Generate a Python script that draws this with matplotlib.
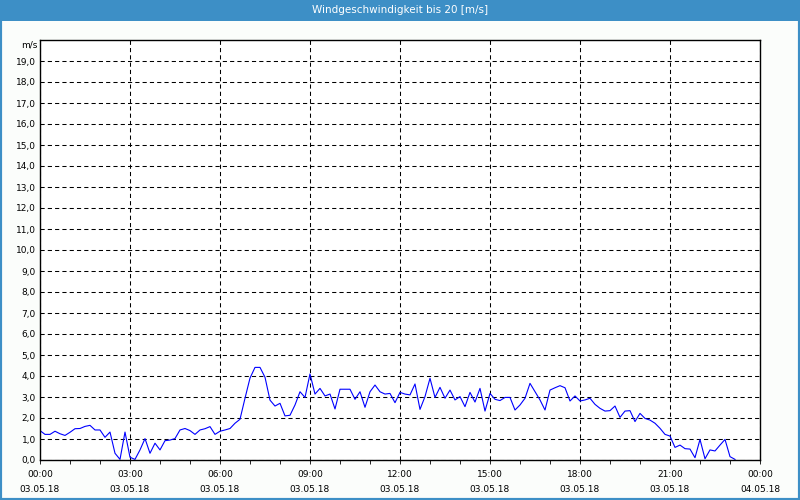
import matplotlib
matplotlib.use("Agg")
import matplotlib.pyplot as plt
import matplotlib.dates as mdates
from matplotlib.patches import Rectangle
import pandas as pd

# Windgeschwindigkeit in m/s, alle 10 Minuten ab 03.05.18 00:00
wind = [
    1.40, 1.22, 1.22, 1.37, 1.25, 1.17, 1.32, 1.49, 1.50, 1.60,
    1.65, 1.43, 1.43, 1.08, 1.33, 0.32, 0.03, 1.33, 0.13, 0.03,
    0.48, 1.02, 0.32, 0.80, 0.48, 0.92, 0.95, 1.02, 1.43, 1.50,
    1.40, 1.22, 1.43, 1.49, 1.59, 1.22, 1.37, 1.43, 1.50, 1.75,
    1.94, 2.94, 3.90, 4.41, 4.41, 3.94, 2.85, 2.57, 2.70, 2.10,
    2.13, 2.62, 3.25, 2.98, 4.10, 3.14, 3.41, 3.05, 3.14, 2.43,
    3.37, 3.37, 3.37, 2.89, 3.25, 2.51, 3.25, 3.57, 3.25, 3.14,
    3.17, 2.73, 3.22, 3.14, 3.10, 3.62, 2.41, 3.02, 3.89, 2.98,
    3.46, 2.94, 3.33, 2.86, 3.02, 2.54, 3.22, 2.76, 3.41, 2.33,
    3.17, 2.89, 2.83, 2.98, 2.98, 2.38, 2.62, 2.94, 3.65, 3.25,
    2.86, 2.38, 3.33, 3.44, 3.54, 3.44, 2.81, 3.05, 2.81, 2.86,
    2.94, 2.65, 2.46, 2.33, 2.35, 2.57, 2.03, 2.33, 2.35, 1.83,
    2.22, 1.98, 1.90, 1.75, 1.51, 1.22, 1.14, 0.60, 0.71, 0.54,
    0.52, 0.11, 0.98, 0.06, 0.48, 0.43, 0.71, 0.98, 0.16, 0.03,
]
zeit = pd.date_range("2018-05-03 00:00", periods=len(wind), freq="10min")

titel = "Windgeschwindigkeit bis 20 [m/s]"
blau = "#3d8fc6"

fig = plt.figure(figsize=(8, 5), dpi=100, facecolor="#fbfdfb")
fig.patches.append(Rectangle((0, 1 - 21 / 500), 1, 21 / 500, transform=fig.transFigure,
                             facecolor=blau, edgecolor="none"))
fig.patches.append(Rectangle((0, 0), 1, 1, transform=fig.transFigure, facecolor="none",
                             edgecolor=blau, linewidth=3))
fig.text(0.5, 1 - 10 / 500, titel, color="white", fontsize=7.5,
         ha="center", va="center")

ax = fig.add_axes([40 / 800, 40 / 500, 720 / 800, 420 / 500])
ax.set_facecolor("white")
ax.plot(zeit, wind, color="#0000ff", linewidth=0.8)

start = pd.Timestamp("2018-05-03 00:00")
ende = pd.Timestamp("2018-05-04 00:00")
ax.set_xlim(start, ende)
ax.set_ylim(0, 20)

ax.set_yticks(range(0, 20))
ax.set_yticklabels([f"{v},0" for v in range(0, 20)])
ax.xaxis.set_major_locator(mdates.HourLocator(byhour=range(0, 24, 3)))
ax.xaxis.set_minor_locator(mdates.HourLocator())
ax.xaxis.set_major_formatter(mdates.DateFormatter("%H:%M\n%d.%m.%y"))

ax.grid(True, which="major", color="black", linestyle=(0, (4, 3)), linewidth=0.75)
ax.tick_params(axis="both", which="both", labelsize=6.5, colors="black", width=0.6)
ax.tick_params(axis="x", which="both", length=3)
ax.tick_params(axis="x", which="major", pad=4)
ax.tick_params(axis="y", length=0, pad=3)
for lbl in ax.get_xticklabels():
    lbl.set_linespacing(1.9)
for s in ax.spines.values():
    s.set_linewidth(1)
    s.set_color("black")

fig.text(37 / 800, 1 - 45 / 500, "m/s", fontsize=6.5, ha="right", va="center")

fig.savefig("out.png", dpi=100, facecolor=fig.get_facecolor())
